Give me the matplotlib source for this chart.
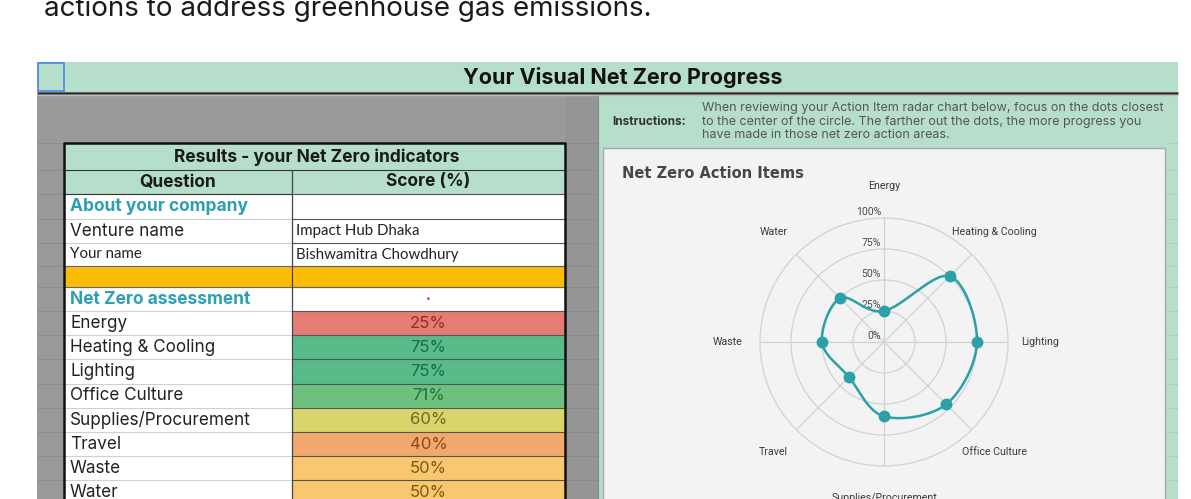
import numpy as np
import matplotlib
matplotlib.use("Agg")
import matplotlib.pyplot as plt
from matplotlib.patches import Rectangle

# data
categories = ["Energy", "Heating & Cooling", "Lighting", "Office Culture",
              "Supplies/Procurement", "Travel", "Waste", "Water"]
scores = [25, 75, 75, 71, 60, 40, 50, 50]
radial_ticks = [0, 25, 50, 75, 100]
venture_name = "Impact Hub Dhaka"
your_name = "Bishwamitra Chowdhury"
instructions = ["When reviewing your Action Item radar chart below, focus on the dots closest",
                "to the center of the circle. The farther out the dots, the more progress you",
                "have made in those net zero action areas."]

# cell styles
score_fill = ["#e67c73", "#57bb8a", "#57bb8a", "#6dc17f", "#d9d46c", "#f2a76c", "#f8c76f", "#f8c76f"]
score_text = ["#8e2f28", "#1f6a45", "#1f6a45", "#2a6d3a", "#6e6a20", "#8a4a1c", "#7a5a16", "#7a5a16"]

GREEN = "#b6dfcb"
GRAY = "#9a9a9a"
TEAL = "#2c9fb2"
FONT = "Inter"

W, H = 1191, 499
fig = plt.figure(figsize=(W / 100, H / 100), dpi=100)
bg = fig.add_axes([0, 0, 1, 1])
bg.set_xlim(0, W)
bg.set_ylim(H, 0)
bg.axis("off")


def rect(x0, y0, x1, y1, fc, ec="none", lw=0, z=1):
    bg.add_patch(Rectangle((x0, y0), x1 - x0, y1 - y0, fc=fc, ec=ec, lw=lw, zorder=z))


def hline(y, x0, x1, c, lw=0.8, z=3):
    bg.plot([x0, x1], [y, y], color=c, lw=lw, zorder=z, solid_capstyle="butt")


def vline(x, y0, y1, c, lw=0.8, z=3):
    bg.plot([x, x], [y0, y1], color=c, lw=lw, zorder=z, solid_capstyle="butt")


# text above the sheet (cut off at the top)
bg.text(44, 16, "actions to address greenhouse gas emissions.", fontsize=20,
        family=FONT, color="#1a1a1a", va="baseline")

# title bar
rect(37, 62, 1178, 92, GREEN)
rect(37.5, 62.5, 64, 91, GREEN, ec="#4a86e8", lw=1.2, z=2)
hline(92.5, 37, 1178, "#2b2b2b", lw=1.8)
hline(94.5, 37, 1178, "#bdbdbd", lw=1.0)
bg.text(623, 77, "Your Visual Net Zero Progress", fontsize=15.5, weight="bold",
        family=FONT, color="#111", ha="center", va="center")

# left gray area and right green area
rect(37, 95, 598, H, GRAY)
rect(565, 95, 598, H, "#959595")
rect(598, 95, 1178, H, GREEN)

# table rows
col0, col1, col2 = 64, 292, 565
rows = [143, 170, 194, 219, 243, 266, 287, 311]
for i in range(len(scores) + 1):
    rows.append(311 + 24.2 * (i + 1))

for y in rows:
    hline(y, 37, 64, "#8a8a8a", lw=0.6)
    hline(y, 565, 598, "#8a8a8a", lw=0.6)
vline(598, 95, H, "#8a8a8a", lw=0.8)

rect(col0, rows[0], col2, rows[2], GREEN)
rect(col0, rows[2], col2, H, "white")
rect(col0, rows[5], col2, rows[6], "#fbbc04")
for i, c in enumerate(score_fill):
    rect(col1, rows[7 + i], col2, rows[8 + i], c)

for i, y in enumerate(rows[1:]):
    hline(y, col0, col1, "#cfcfcf" if i > 1 else "#333", lw=0.8)
    hline(y, col1, col2, "#555" if i > 0 else "#333", lw=0.8)
hline(rows[5], col0, col2, "#666", lw=0.8)
hline(rows[6], col0, col2, "#666", lw=0.8)
vline(col1, rows[1], H, "#444", lw=0.9)
bg.plot([col0, col0, col2, col2], [H, rows[0], rows[0], H], color="#111", lw=1.8, zorder=4)


def cy(i):
    return (rows[i] + rows[i + 1]) / 2


bg.text((col0 + col2) / 2 + 2, cy(0) + 1, "Results - your Net Zero indicators", fontsize=12.5,
        weight="bold", family=FONT, color="#1a1a1a", ha="center", va="center", zorder=5)
bg.text((col0 + col1) / 2, cy(1), "Question", fontsize=12.5, weight="bold", family=FONT,
        color="#1a1a1a", ha="center", va="center", zorder=5)
bg.text((col1 + col2) / 2, cy(1), "Score (%)", fontsize=12.5, weight="bold", family=FONT,
        color="#1a1a1a", ha="center", va="center", zorder=5)
bg.text(70, cy(2), "About your company", fontsize=12.5, weight="bold", family=FONT,
        color=TEAL, va="center", zorder=5)
bg.text(70, cy(3), "Venture name", fontsize=12.3, family=FONT, color="#222", va="center", zorder=5)
bg.text(70, cy(4), "Your name", fontsize=10.8, family="Lato", color="#222", va="center", zorder=5)
bg.text(296, cy(3), venture_name, fontsize=10.8, family="Lato", color="#222", va="center", zorder=5)
bg.text(296, cy(4), your_name, fontsize=10.8, family="Lato", color="#222", va="center", zorder=5)
bg.text(70, cy(6), "Net Zero assessment", fontsize=12.5, weight="bold", family=FONT,
        color=TEAL, va="center", zorder=5)
bg.text((col1 + col2) / 2, cy(6), "\u2022", fontsize=6, color="#c0392b",
        ha="center", va="center", zorder=5)
for i, (cat, s) in enumerate(zip(categories, scores)):
    bg.text(70, cy(7 + i), cat, fontsize=12.3, family=FONT, color="#222", va="center", zorder=5)
    bg.text((col1 + col2) / 2, cy(7 + i), f"{s}%", fontsize=12, family=FONT,
            color=score_text[i], ha="center", va="center", zorder=5)

# instructions
bg.text(649, 122, "Instructions:", fontsize=8.5, weight="bold", family=FONT,
        color="#333", ha="center", va="center")
for k, line in enumerate(instructions):
    bg.text(702, 108 + 13.5 * k, line, fontsize=9.0, family=FONT, color="#555", va="center")

# chart panel
for y in rows:
    hline(y, 1166, 1178, "#a3d3bb", lw=0.6, z=1.5)
rect(603, 148, 1165, H + 5, "#f3f3f3", ec="#a9a9a9", lw=1.0, z=2)
bg.text(622, 173, "Net Zero Action Items", fontsize=10.5, weight="bold",
        family="DejaVu Sans", color="#474747", va="center", zorder=5)

# radar chart
cx, cyc, R = 884, 342, 124
ax = fig.add_axes([(cx - R) / W, (H - cyc - R) / H, 2 * R / W, 2 * R / H], projection="polar")
ax.set_facecolor("none")
ax.set_theta_zero_location("N")
ax.set_theta_direction(-1)
ax.set_ylim(0, 100)

theta = np.arange(len(categories)) * 2 * np.pi / len(categories)
ax.set_xticks(theta)
ax.set_xticklabels([])
ax.set_yticks(radial_ticks[1:-1])
ax.set_yticklabels([])
ax.grid(color="#d2d2d2", lw=0.9)
ax.spines["polar"].set_color("#d2d2d2")
ax.spines["polar"].set_linewidth(0.9)

# smooth closed curve through the points (Catmull-Rom in x/y)
r = np.array(scores, dtype=float)
px, py = r * np.sin(theta), r * np.cos(theta)
n = len(r)
sx, sy = [], []
t = np.linspace(0, 1, 30, endpoint=False)
for i in range(n):
    p0, p1, p2, p3 = [(px[(i + k) % n], py[(i + k) % n]) for k in (-1, 0, 1, 2)]
    for a in range(2):
        c0, c1, c2, c3 = p0[a], p1[a], p2[a], p3[a]
        v = 0.5 * (2 * c1 + (-c0 + c2) * t + (2 * c0 - 5 * c1 + 4 * c2 - c3) * t ** 2
                   + (-c0 + 3 * c1 - 3 * c2 + c3) * t ** 3)
        (sx if a == 0 else sy).extend(v)
sx.append(sx[0])
sy.append(sy[0])
sx, sy = np.array(sx), np.array(sy)
st = np.unwrap(np.arctan2(sx, sy))
sr = np.hypot(sx, sy)
ax.plot(st, sr, color="#2aa0a7", lw=1.8, zorder=5, clip_on=False)
ax.plot(theta, r, "o", color="#2aa0a7", ms=7.5, zorder=6, clip_on=False)

for th, cat in zip(theta, categories):
    ax.text(th, 126, cat, fontsize=7.7, family="Roboto", color="#3a3a3a",
            ha="center", va="center")
for v in radial_ticks:
    ax.annotate(f"{v}%", (0, v), xytext=(-2, 1), textcoords="offset points",
                fontsize=7.6, family="Roboto", color="#4a4a4a", ha="right", va="bottom")

fig.savefig("out.png", dpi=100)
